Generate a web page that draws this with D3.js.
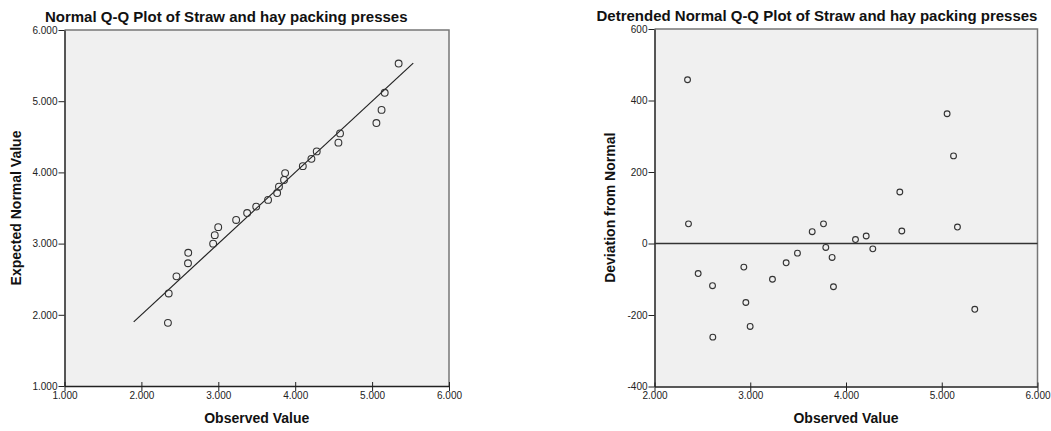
<!DOCTYPE html>
<html>
<head>
<meta charset="utf-8">
<script src="https://cdn.jsdelivr.net/npm/d3@7"></script>
<style>
  body { margin: 0; background: #fff; }
  svg { display: block; font-family: Arial, "Liberation Sans", sans-serif; }
</style>
</head>
<body>
<svg id="chart" width="1051" height="431"></svg>
<script>
const observed = [2345, 2355, 2456, 2606, 2609, 2933, 2954, 2999, 3232, 3375, 3493, 3647, 3765,
  3789, 3855, 3869, 4099, 4211, 4280, 4562, 4583, 5056, 5123, 5164, 5345];
// expected normal value (left plot)
const expected = [1887, 2300, 2540, 2724, 2871, 2999, 3119, 3231, 3332, 3429, 3520, 3614, 3710,
  3800, 3894, 3990, 4088, 4190, 4295, 4418, 4548, 4693, 4878, 5118, 5529];
// deviation from normal (right plot)
const deviation = [458, 55, -84, -118, -262, -66, -165, -232, -100, -54, -27, 33, 55,
  -11, -39, -121, 11, 21, -15, 144, 35, 363, 245, 46, -184];

const qqTicks = [1000, 2000, 3000, 4000, 5000, 6000];
const detX = [2000, 3000, 4000, 5000, 6000];
const detY = [-400, -200, 0, 200, 400, 600];
const refLine = [1900, 5535];

const locale = d3.formatLocale({ decimal: ",", thousands: ".", grouping: [3], currency: ["", ""] });
const fmtK = v => locale.format(",")(v);
const fmtPlain = v => String(v); // plain hyphen minus, like SPSS

const svg = d3.select("#chart");

function drawPlot(opt) {
  const { left, top, width, height } = opt;
  const g = svg.append("g").attr("transform", `translate(${left},${top})`);

  const x = d3.scaleLinear().domain(opt.xDomain).range([0, width]);
  const y = d3.scaleLinear().domain(opt.yDomain).range([height, 0]);

  g.append("rect").attr("width", width).attr("height", height).attr("fill", "#f0f0f0");

  // top & right frame
  g.append("path")
    .attr("d", `M0,0H${width}V${height}`)
    .attr("fill", "none").attr("stroke", "#777").attr("stroke-width", 1.5);

  const xAxis = g.append("g").attr("transform", `translate(0,${height})`)
    .call(d3.axisBottom(x).tickValues(opt.xTicks).tickFormat(opt.xFmt).tickSize(6).tickSizeOuter(0));
  const yAxis = g.append("g")
    .call(d3.axisLeft(y).tickValues(opt.yTicks).tickFormat(opt.yFmt).tickSize(6).tickSizeOuter(0));

  [xAxis, yAxis].forEach(a => {
    a.select(".domain").attr("stroke", "#222").attr("stroke-width", 1.5);
    a.selectAll(".tick line").attr("stroke", "#222");
    a.selectAll("text").attr("font-size", 10).attr("fill", "#222")
      .attr("font-family", "Arial, 'Liberation Sans', sans-serif");
  });
  xAxis.selectAll(".tick line").attr("y2", 5).attr("y1", -4);
  xAxis.selectAll("text").attr("y", 5.5).attr("dy", "0.71em");
  yAxis.selectAll("text").attr("x", -7);

  opt.drawLine(g, x, y);

  g.selectAll("circle.pt")
    .data(opt.points)
    .enter()
    .append("circle")
    .attr("class", "pt")
    .attr("cx", d => x(d[0]))
    .attr("cy", d => y(d[1]))
    .attr("r", opt.r)
    .attr("fill", "none")
    .attr("stroke", "#333")
    .attr("stroke-width", 1.1);

  // title
  svg.append("text")
    .attr("x", left + width / 2 + opt.titleShift)
    .attr("y", opt.titleY)
    .attr("text-anchor", "middle")
    .attr("font-size", 15)
    .attr("font-weight", "bold")
    .attr("fill", "#111")
    .text(opt.title);

  // axis labels
  svg.append("text")
    .attr("x", left + width / 2)
    .attr("y", 423)
    .attr("text-anchor", "middle")
    .attr("font-size", 14)
    .attr("font-weight", "bold")
    .attr("fill", "#111")
    .text("Observed Value");

  svg.append("text")
    .attr("transform", `translate(${opt.yLabelX},${top + height / 2}) rotate(-90)`)
    .attr("text-anchor", "middle")
    .attr("font-size", 14)
    .attr("font-weight", "bold")
    .attr("fill", "#111")
    .text(opt.yLabel);
}

drawPlot({
  left: 64.5, top: 30, width: 384.5, height: 356,
  xDomain: [1000, 6000], yDomain: [1000, 6000],
  xTicks: qqTicks, yTicks: qqTicks, xFmt: fmtK, yFmt: fmtK,
  points: observed.map((o, i) => [o, expected[i]]),
  r: 3.4,
  title: "Normal Q-Q Plot of Straw and hay packing presses",
  titleShift: -30.5, titleY: 22,
  yLabel: "Expected Normal Value", yLabelX: 21,
  drawLine: (g, x, y) => {
    g.append("line")
      .attr("x1", x(refLine[0])).attr("y1", y(refLine[0]))
      .attr("x2", x(refLine[1])).attr("y2", y(refLine[1]))
      .attr("stroke", "#222").attr("stroke-width", 1.2);
  }
});

drawPlot({
  left: 654.5, top: 29, width: 383, height: 357.5,
  xDomain: [2000, 6000], yDomain: [-400, 600],
  xTicks: detX, yTicks: detY, xFmt: fmtK, yFmt: fmtPlain,
  points: observed.map((o, i) => [o, deviation[i]]),
  r: 2.9,
  title: "Detrended Normal Q-Q Plot of Straw and hay packing presses",
  titleShift: -29, titleY: 20.5,
  yLabel: "Deviation from Normal", yLabelX: 615,
  drawLine: (g, x, y) => {
    g.append("line")
      .attr("x1", 0).attr("y1", y(0))
      .attr("x2", x.range()[1]).attr("y2", y(0))
      .attr("stroke", "#333").attr("stroke-width", 1.3);
  }
});
</script>
</body>
</html>
